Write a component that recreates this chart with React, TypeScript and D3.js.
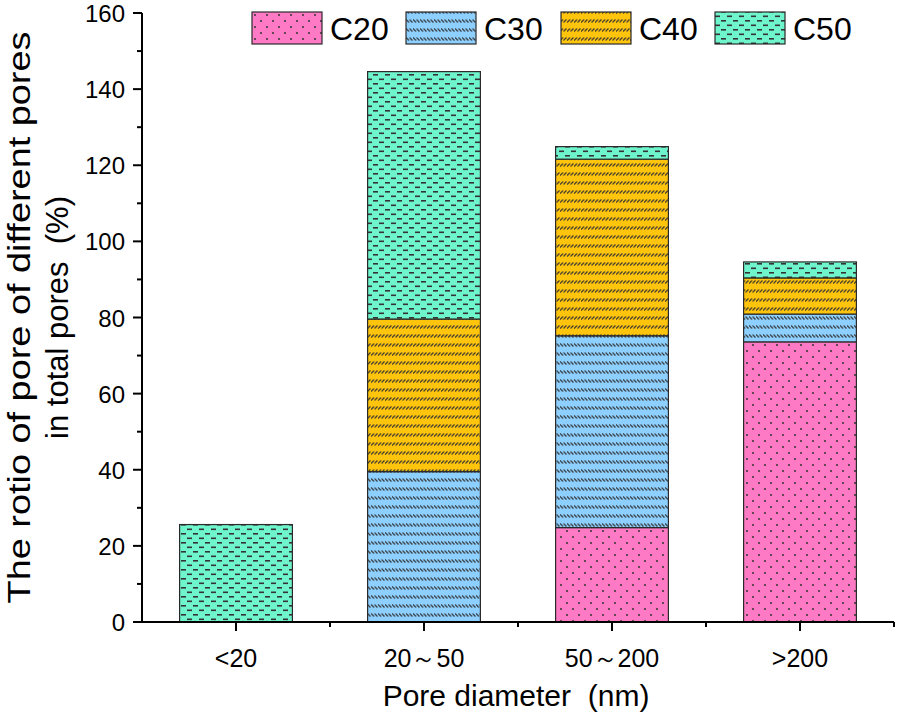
import React from "react";
import * as d3 from "d3";

const categories = ["<20", "20～50", "50～200", ">200"];
const seriesNames = ["C20", "C30", "C40", "C50"];
const C20 = [0, 0, 24.8, 73.6];
const C30 = [0, 39.5, 50.4, 7.3];
const C40 = [0, 40.1, 46.4, 9.5];
const C50 = [25.6, 65.0, 3.3, 4.2];
const yTicks = [0, 20, 40, 60, 80, 100, 120, 140, 160];
const colors = ["#ff7ac4", "#8dd0ff", "#ffc40c", "#6ff5cc"];

const W = 898, H = 718;
const x0 = 142, x1 = 894, yBottom = 622, yTop = 13;

export default function App() {
  const series = [C20, C30, C40, C50];
  const x = d3.scaleLinear().domain([0.5, 4.5]).range([x0, x1]);
  const y = d3.scaleLinear().domain([0, 160]).range([yBottom, yTop]);
  const data = categories.map((c, i) => {
    const o: any = { cat: c, idx: i + 1 };
    seriesNames.forEach((s, k) => (o[s] = series[k][i]));
    return o;
  });
  const stack = d3.stack().keys(seriesNames)(data);
  const bw = (x(2) - x(1)) * 0.6;
  const minor = d3.range(0, 161, 10).filter((v) => v % 20 !== 0);
  const font = "Arial, 'Liberation Sans', sans-serif";
  const stroke = "#2a2a2a";
  const pre = { whiteSpace: "pre" as const };

  const legendX = [252, 406, 561, 715];

  return (
    <svg width={W} height={H} style={{ position: "absolute", left: 0, top: 0, background: "#fff" }} fontFamily={font}>
      <defs>
        <pattern id="p0" patternUnits="userSpaceOnUse" width="12" height="12">
          <rect width="12" height="12" fill={colors[0]} />
          <circle cx="3" cy="3" r="1" fill="#333" />
          <circle cx="9" cy="9" r="1" fill="#333" />
        </pattern>
        <pattern id="p1" patternUnits="userSpaceOnUse" width="3.5" height="9">
          <rect width="3.5" height="9" fill={colors[1]} />
          <line x1="0" y1="1.5" x2="3" y2="4.5" stroke="#333" strokeWidth="1.1" />
        </pattern>
        <pattern id="p2" patternUnits="userSpaceOnUse" width="3.5" height="9">
          <rect width="3.5" height="9" fill={colors[2]} />
          <line x1="0" y1="4.5" x2="3" y2="1.5" stroke="#333" strokeWidth="1.1" />
        </pattern>
        <pattern id="p3" patternUnits="userSpaceOnUse" width="12" height="9">
          <rect width="12" height="9" fill={colors[3]} />
          <rect x="1" y="2" width="5" height="1.6" fill="#333" />
          <rect x="7" y="6.5" width="5" height="1.6" fill="#333" />
        </pattern>
      </defs>

      {stack.map((layer, k) => (
        <g key={k}>
          {layer.map((d, i) =>
            d[1] - d[0] > 0 ? (
              <rect
                key={i}
                x={x(i + 1) - bw / 2}
                y={y(d[1])}
                width={bw}
                height={y(d[0]) - y(d[1])}
                fill={`url(#p${k})`}
                stroke={stroke}
                strokeWidth={1.2}
              />
            ) : null
          )}
        </g>
      ))}

      {/* y axis */}
      <line x1={x0} x2={x0} y1={yTop} y2={yBottom} stroke="#000" strokeWidth={2} />
      {yTicks.map((t) => (
        <g key={t}>
          <line x1={x0 - 9} x2={x0} y1={y(t)} y2={y(t)} stroke="#000" strokeWidth={2} />
          <text x={x0 - 17} y={y(t) + 9} textAnchor="end" fontSize={24}>
            {t}
          </text>
        </g>
      ))}
      {minor.map((t) => (
        <line key={t} x1={x0 - 5} x2={x0} y1={y(t)} y2={y(t)} stroke="#000" strokeWidth={2} />
      ))}

      {/* x axis */}
      <line x1={x0 - 9} x2={x1} y1={yBottom} y2={yBottom} stroke="#000" strokeWidth={2} />
      {categories.map((c, i) => (
        <g key={c}>
          <line x1={x(i + 1)} x2={x(i + 1)} y1={yBottom} y2={yBottom + 9} stroke="#000" strokeWidth={2} />
          <text x={x(i + 1)} y={667} textAnchor="middle" fontSize={25}>
            {c}
          </text>
        </g>
      ))}
      {[1.5, 2.5, 3.5, 4.5].map((v) => (
        <line key={v} x1={x(v)} x2={x(v)} y1={yBottom} y2={yBottom + 5} stroke="#000" strokeWidth={2} />
      ))}

      {/* axis titles */}
      <text x={(x0 + x1) / 2 - 2} y={706} textAnchor="middle" fontSize={30} style={pre}>
        {"Pore diameter  (nm)"}
      </text>
      <g transform={`translate(0, ${(yTop + yBottom) / 2}) rotate(-90)`}>
        <text x={0} y={30} textAnchor="middle" fontSize={31} textLength={572} lengthAdjust="spacingAndGlyphs" style={pre}>
          {"The rotio of pore of different pores"}
        </text>
        <text x={0} y={68} textAnchor="middle" fontSize={31} style={pre}>
          {"in total pores  (%)"}
        </text>
      </g>

      {/* legend */}
      {seriesNames.map((s, k) => (
        <g key={s}>
          <rect x={legendX[k]} y={12} width={70} height={32} fill={`url(#p${k})`} stroke={stroke} strokeWidth={1.2} />
          <text x={legendX[k] + 78} y={40} fontSize={32}>
            {s}
          </text>
        </g>
      ))}
    </svg>
  );
}
